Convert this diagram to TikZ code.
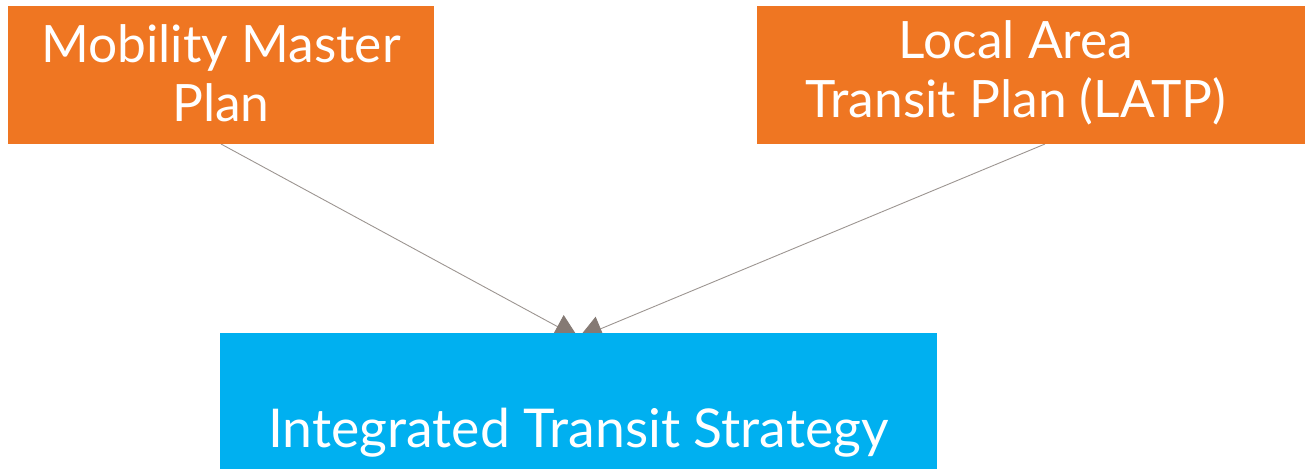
\documentclass[tikz,border=0pt]{standalone}
\usepackage{fontspec}
\setmainfont{Lato}
\usetikzlibrary{arrows.meta,positioning}
\pgfdeclarelayer{bg}
\pgfsetlayers{bg,main}
\definecolor{orangebox}{HTML}{EF7622}
\definecolor{bluebox}{HTML}{00B0F0}
\definecolor{linegray}{HTML}{9C9591}
\definecolor{tipgray}{HTML}{857A74}
\tikzset{
  obox/.style={fill=orangebox, draw=none, inner sep=0pt, outer sep=0pt, rectangle},
  bbox/.style={fill=bluebox, draw=none, inner sep=0pt, outer sep=0pt, rectangle},
  boxtext/.style={text=white, align=center, inner sep=0pt, font=\fontsize{51.5}{59}\selectfont},
  conn/.style={draw=linegray, line width=0.9pt, -{Triangle[width=26pt,length=24pt,color=tipgray,fill=tipgray]}}
}
\begin{document}
\begin{tikzpicture}[x=1pt,y=-1pt]
\useasboundingbox (0,0) rectangle (1305,469);
\node[obox, minimum width=426pt, minimum height=138pt] (L) at (221,75) {};
\node[boxtext] (Lt) at (221,73) {Mobility Master\\Plan};
\node[obox, minimum width=548pt, minimum height=138pt] (R) at (1031,75) {};
\node[boxtext] (Rt) at (1016,73) {Local Area\\Transit Plan (LATP)};
\node[bbox, minimum width=717pt, minimum height=136pt] (B) at (578.5,401) {};
\node[boxtext, font=\fontsize{53.5}{60}\selectfont] (Bt) at (578.5,433) {Integrated Transit Strategy};
\coordinate (rs) at ([xshift=14pt]R.south);
\coordinate (bt) at ([yshift=-5pt]B.north);
\begin{pgfonlayer}{bg}
\draw[conn] (L.south) -- (bt);
\draw[conn] (rs) -- (bt);
\end{pgfonlayer}
\end{tikzpicture}
\end{document}
